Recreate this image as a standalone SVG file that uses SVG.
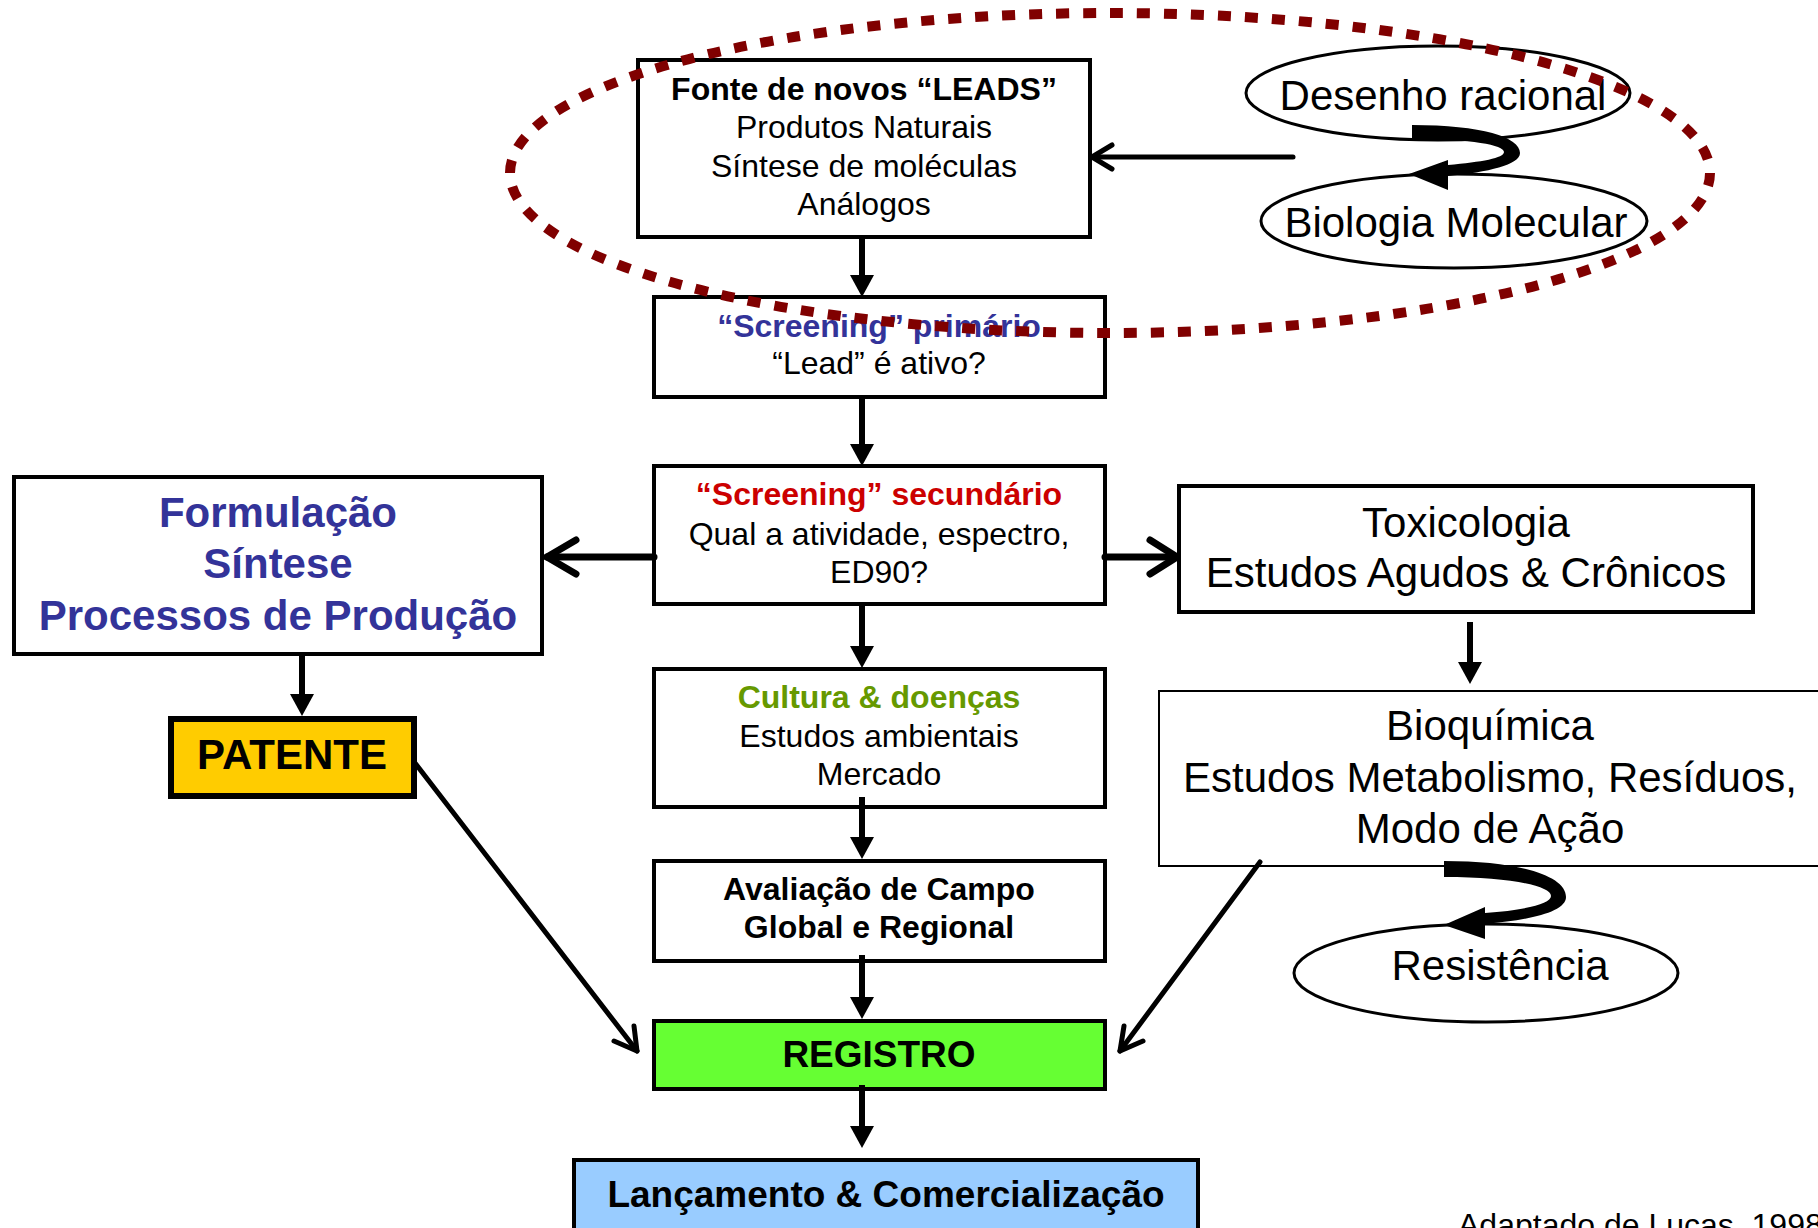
<svg xmlns="http://www.w3.org/2000/svg" width="1818" height="1228" viewBox="0 0 1818 1228">
<defs>
<style>
text{font-family:"Liberation Sans",Arial,sans-serif;text-anchor:middle;fill:#000}
.s{font-size:32px}
.l{font-size:42px}
.b{font-weight:bold}
.box{fill:#fff;stroke:#000;stroke-width:4}
.ell{fill:#fff;stroke:#000;stroke-width:3}
.conn{stroke:#000;stroke-width:6;fill:none}
.chev{stroke:#000;fill:none;stroke-linecap:round;stroke-linejoin:round}
</style>
<marker id="tri" viewBox="0 0 22 24" refX="0" refY="12" markerWidth="22" markerHeight="24" markerUnits="userSpaceOnUse" orient="auto">
<path d="M0,0 L22,12 L0,24 Z" fill="#000"/>
</marker>
</defs>
<rect width="1818" height="1228" fill="#fff"/>

<g id="node-fonte">
<rect class="box" x="638" y="60" width="452" height="177"/>
<text class="s b" x="864" y="100">Fonte de novos “LEADS”</text>
<text class="s" x="864" y="138">Produtos Naturais</text>
<text class="s" x="864" y="177">Síntese de moléculas</text>
<text class="s" x="864" y="215">Análogos</text>
</g>

<g id="node-desenho">
<ellipse class="ell" cx="1438" cy="93" rx="192" ry="47"/>
<text class="l" x="1443" y="110">Desenho racional</text>
</g>

<g id="node-biologia">
<ellipse class="ell" cx="1454" cy="221" rx="193" ry="47"/>
<text class="l" x="1456" y="237">Biologia Molecular</text>
</g>

<g id="node-primario">
<rect class="box" x="654" y="297" width="451" height="100"/>
<text class="s b" x="879" y="337" style="fill:#333399">“Screening” primário</text>
<text class="s" x="879" y="374">“Lead” é ativo?</text>
</g>

<g id="node-secundario">
<rect class="box" x="654" y="466" width="451" height="138"/>
<text class="s b" x="879" y="505" style="fill:#cc0000">“Screening” secundário</text>
<text class="s" x="879" y="545">Qual a atividade, espectro,</text>
<text class="s" x="879" y="583">ED90?</text>
</g>

<g id="node-formulacao">
<rect class="box" x="14" y="477" width="528" height="177"/>
<text class="l b" x="278" y="527" style="fill:#333399">Formulação</text>
<text class="l b" x="278" y="578" style="fill:#333399">Síntese</text>
<text class="l b" x="278" y="630" style="fill:#333399">Processos de Produção</text>
</g>

<g id="node-patente">
<rect x="171" y="719" width="243" height="77" fill="#ffcc00" stroke="#000" stroke-width="6"/>
<text class="b" x="292" y="769" style="font-size:42px">PATENTE</text>
</g>

<g id="node-toxicologia">
<rect class="box" x="1179" y="486" width="574" height="126"/>
<text class="l" x="1466" y="537">Toxicologia</text>
<text class="l" x="1466" y="587">Estudos Agudos &amp; Crônicos</text>
</g>

<g id="node-bioquimica">
<rect x="1159" y="691" width="700" height="175" fill="#fff" stroke="#000" stroke-width="2"/>
<text class="l" x="1490" y="740">Bioquímica</text>
<text class="l" x="1490" y="792">Estudos Metabolismo, Resíduos,</text>
<text class="l" x="1490" y="843">Modo de Ação</text>
</g>

<g id="node-resistencia">
<ellipse class="ell" cx="1486" cy="973" rx="192" ry="49"/>
<text class="l" x="1500" y="980">Resistência</text>
</g>

<g id="node-cultura">
<rect class="box" x="654" y="669" width="451" height="138"/>
<text class="s b" x="879" y="708" style="fill:#669900">Cultura &amp; doenças</text>
<text class="s" x="879" y="747">Estudos ambientais</text>
<text class="s" x="879" y="785">Mercado</text>
</g>

<g id="node-avaliacao">
<rect class="box" x="654" y="861" width="451" height="100"/>
<text class="s b" x="879" y="900">Avaliação de Campo</text>
<text class="s b" x="879" y="938">Global e Regional</text>
</g>

<g id="node-registro">
<rect x="654" y="1021" width="451" height="68" fill="#66ff33" stroke="#000" stroke-width="4"/>
<text class="b" x="879" y="1067" style="font-size:37px">REGISTRO</text>
</g>

<g id="node-lancamento">
<rect x="574" y="1160" width="624" height="80" fill="#99ccff" stroke="#000" stroke-width="4"/>
<text class="b" x="886" y="1207" style="font-size:37px">Lançamento &amp; Comercialização</text>
</g>

<g id="connectors">
<line class="conn" x1="862" y1="237" x2="862" y2="275" marker-end="url(#tri)"/>
<line class="conn" x1="862" y1="397" x2="862" y2="444" marker-end="url(#tri)"/>
<line class="conn" x1="862" y1="604" x2="862" y2="646" marker-end="url(#tri)"/>
<line class="conn" x1="862" y1="797" x2="862" y2="837" marker-end="url(#tri)"/>
<line class="conn" x1="862" y1="955" x2="862" y2="997" marker-end="url(#tri)"/>
<line class="conn" x1="862" y1="1085" x2="862" y2="1126" marker-end="url(#tri)"/>
<line class="conn" x1="302" y1="654" x2="302" y2="694" marker-end="url(#tri)"/>
<line class="conn" x1="1470" y1="622" x2="1470" y2="662" marker-end="url(#tri)"/>

<line class="chev" stroke-width="7" x1="654" y1="557" x2="547" y2="557"/>
<polyline class="chev" stroke-width="7" points="576,540 547,557 576,574"/>
<line class="chev" stroke-width="7" x1="1105" y1="557" x2="1176" y2="557"/>
<polyline class="chev" stroke-width="7" points="1150,540 1177,557 1150,574"/>

<line class="chev" stroke-width="5" x1="1293" y1="157" x2="1092" y2="157"/>
<polyline class="chev" stroke-width="5" points="1112,145 1092,157 1112,169"/>

<line class="chev" stroke-width="5" x1="415" y1="763" x2="637" y2="1051"/>
<polyline class="chev" stroke-width="5" points="614,1041 637,1051 634,1026"/>
<line class="chev" stroke-width="5" x1="1260" y1="862" x2="1120" y2="1051"/>
<polyline class="chev" stroke-width="5" points="1143,1041 1120,1051 1124,1026"/>

<path d="M1412,125 C1482,125 1520,137 1520,153 C1520,165 1488,172 1448,176 L1448,190 L1409,174 L1448,160 L1448,165 C1482,162 1504,158 1504,152 C1504,145 1472,139 1412,139 Z" fill="#000"/>
<path d="M1444,861 C1520,861 1566,876 1566,897 C1566,912 1530,920 1485,924 L1485,939 L1444,925 L1485,907 L1485,913 C1525,910 1551,904 1551,896 C1551,886 1510,877 1444,877 Z" fill="#000"/>
</g>

<ellipse cx="1110" cy="173" rx="600" ry="160" fill="none" stroke="#800000" stroke-width="10" stroke-dasharray="13 14"/>

<text x="1458" y="1236" style="font-size:32px;text-anchor:start">Adaptado de Lucas, 1998</text>
</svg>
